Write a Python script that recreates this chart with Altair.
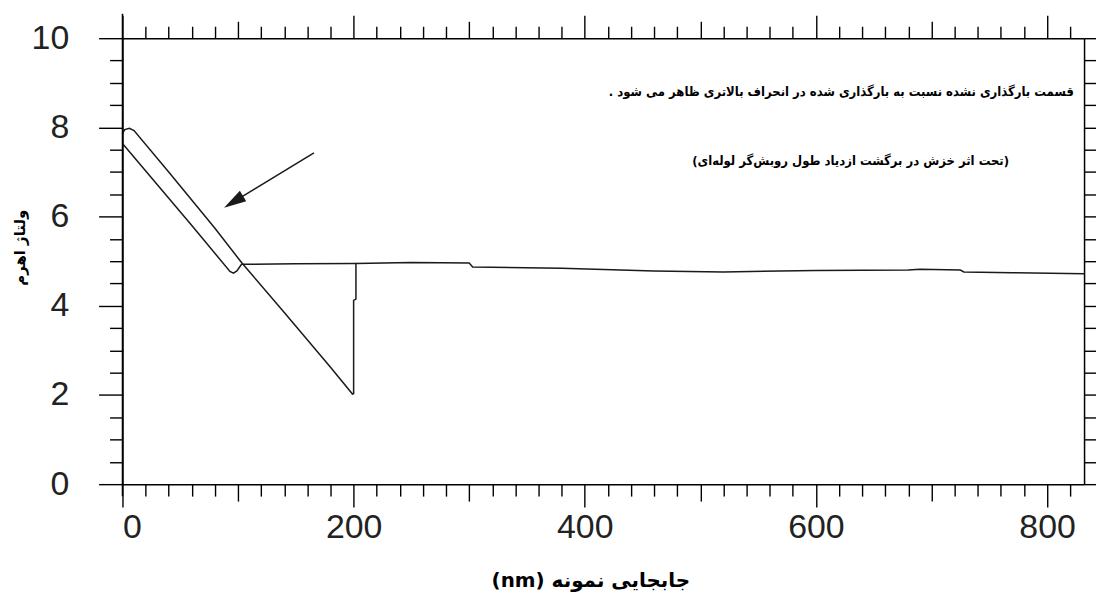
import altair as alt
import pandas as pd

# ---- data ----
# outer trace: top cap, long descending line, drop, jump back up
outer_x = [0, 2, 6, 10, 40, 80, 103, 140, 180, 199, 200, 200, 202, 202]
outer_y = [7.86, 7.95, 7.98, 7.93, 7.0, 5.74, 4.97, 3.85, 2.62, 2.02, 2.03, 4.12, 4.15, 4.95]
# inner trace: lower line of the loop and horizontal segment
inner_x = [0, 30, 60, 93, 96, 99, 103, 150, 202]
inner_y = [7.64, 6.72, 5.8, 4.77, 4.73, 4.78, 4.93, 4.94, 4.95]
# common plateau
plat_x = [202, 250, 300, 303, 380, 460, 520, 600, 680, 690, 725, 728, 770, 832]
plat_y = [4.95, 4.97, 4.96, 4.87, 4.84, 4.78, 4.76, 4.79, 4.80, 4.82, 4.80, 4.76, 4.74, 4.72]

x_domain = [0, 832]
y_domain = [0, 10]
x_ticks = list(range(0, 833, 20))
y_ticks = [i * 0.5 for i in range(0, 21)]
y_axis_line = [-0.27, 10.55]   # left axis line overshoots the frame

RLE, PDF = "\u202B", "\u202C"
note_lines = [
    "قسمت بارگذاری نشده نسبت به بارگذاری شده در انحراف بالاتری ظاهر می شود .",
    "(تحت اثر خزش در برگشت ازدیاد طول روبش\u200cگر لوله\u200cای)",
]
note_x = [622, 630]
note_y = [8.79, 7.25]

arrow_x0, arrow_y0 = [165.7], [7.43]
arrow_x1, arrow_y1 = [96.1], [6.33]

x_title = "جابجایی نمونه (nm)"
y_title = "ولتاژ اهرم"


def rtl(s):
    return RLE + s + PDF


rows = []
for i, (a, b) in enumerate(zip(outer_x + plat_x, outer_y + plat_y)):
    rows.append({"s": "outer", "o": i, "x": a, "y": b})
for i, (a, b) in enumerate(zip(inner_x, inner_y)):
    rows.append({"s": "inner", "o": i, "x": a, "y": b})
df = pd.DataFrame(rows)

xs = alt.Scale(domain=x_domain, nice=False, zero=False)
ys = alt.Scale(domain=y_domain, nice=False, zero=False)

tick_x_size = {"condition": [{"test": "datum.value % 200 === 0", "value": 23},
                             {"test": "datum.value % 100 === 0", "value": 17}],
               "value": 12}

ax_bottom = alt.Axis(orient="bottom", values=x_ticks, tickSize=tick_x_size,
                     labelExpr="datum.value % 200 === 0 ? format(datum.value, 'd') : ''",
                     labelFont="Liberation Sans", labelFontSize=34, labelColor="#222",
                     labelPadding=4, tickColor="black", tickWidth=1.4,
                     domainColor="black", domainWidth=1.5, grid=False,
                     title=rtl(x_title), titleFont="DejaVu Sans", titleFontWeight="bold",
                     titleFontSize=20, titleColor="black", titleX=470, titleY=97,
                     titleAlign="center", titleBaseline="middle")
ax_left = alt.Axis(orient="left", values=y_ticks,
                   tickSize={"condition": {"test": "datum.value % 2 === 0", "value": 24}, "value": 13},
                   labelExpr="datum.value % 2 === 0 ? format(datum.value, 'd') : ''",
                   labelFont="Liberation Sans", labelFontSize=34, labelColor="#222",
                   labelPadding=30, tickColor="black", tickWidth=1.4,
                   domainColor="black", domainWidth=1.5, grid=False,
                   title=rtl(y_title), titleFont="DejaVu Sans", titleFontWeight="bold",
                   titleFontSize=15, titleColor="black", titleX=-103, titleY=210,
                   titleAlign="center", titleBaseline="middle", titleAngle=270)
ax_top = alt.Axis(orient="top", values=x_ticks, tickSize=tick_x_size, labels=False,
                  tickColor="black", tickWidth=1.4, domainColor="black", domainWidth=1.5,
                  grid=False, title=None)
ax_right = alt.Axis(orient="right", values=y_ticks, tickSize=12, labels=False,
                    tickColor="black", tickWidth=1.4, domainColor="black", domainWidth=1.5,
                    grid=False, title=None)

lines = alt.Chart(df).mark_line(color="#1a1a1a", strokeWidth=1.5).encode(
    x=alt.X("x:Q", scale=xs, axis=ax_bottom),
    y=alt.Y("y:Q", scale=ys, axis=ax_left),
    detail="s:N",
    order="o:Q",
)

notes_df = pd.DataFrame({"x": note_x, "y": note_y, "t": [rtl(t) for t in note_lines]})
notes = alt.Chart(notes_df).mark_text(font="DejaVu Sans Condensed", fontWeight="bold", fontSize=13,
                                      color="black", align="center", baseline="middle").encode(
    x=alt.X("x:Q", scale=xs, axis=ax_top),
    y=alt.Y("y:Q", scale=ys, axis=ax_right),
    text="t:N",
)

axis_ext = alt.Chart(pd.DataFrame({"x": [0], "y": [y_axis_line[0]], "y2": [y_axis_line[1]]})).mark_rule(
    color="black", strokeWidth=1.5, clip=False
).encode(
    x=alt.X("x:Q", scale=xs, axis=None),
    y=alt.Y("y:Q", scale=ys, axis=None),
    y2="y2:Q",
)

arr_df = pd.DataFrame({"x": arrow_x0, "y": arrow_y0, "x2": arrow_x1, "y2": arrow_y1})
arrow_line = alt.Chart(arr_df).mark_rule(color="#1a1a1a", strokeWidth=1.5).encode(
    x=alt.X("x:Q", scale=xs, axis=None),
    y=alt.Y("y:Q", scale=ys, axis=None),
    x2="x2:Q", y2="y2:Q",
)
arrow_head = alt.Chart(arr_df).mark_point(
    shape="M0,-1L0.55,1L-0.55,1Z", filled=True, color="#1a1a1a", size=500, angle=238.6, opacity=1
).encode(
    x=alt.X("x2:Q", scale=xs, axis=None),
    y=alt.Y("y2:Q", scale=ys, axis=None),
)

chart = alt.layer(lines, notes, axis_ext, arrow_line, arrow_head).resolve_axis(
    x="independent", y="independent"
).properties(
    width=966, height=448,
    autosize=alt.AutoSizeParams(type="none"),
    padding={"left": 115, "top": 29, "right": 12, "bottom": 110},
).configure_view(stroke="black", strokeWidth=1.5).configure(background="white")

chart.save("out.html", embed_options={"renderer": "svg", "actions": False})
